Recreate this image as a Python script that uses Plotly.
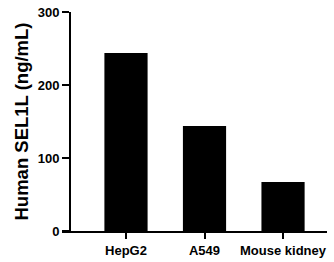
import plotly.graph_objects as go

categories = ["HepG2", "A549", "Mouse kidney"]
values = [244, 144, 67]
y_ticks = [0, 100, 200, 300]

FONT = "Liberation Sans, Arial, sans-serif"

fig = go.Figure()
fig.add_trace(go.Bar(
    x=list(range(len(categories))),
    y=values,
    width=0.55,
    marker=dict(color="black", line=dict(width=0)),
))

fig.update_layout(
    width=334, height=262,
    margin=dict(l=62, r=7, t=12, b=31, autoexpand=False),
    plot_bgcolor="white", paper_bgcolor="white",
    showlegend=False,
    font=dict(family=FONT, color="black", size=13, weight="bold"),
    xaxis=dict(
        range=[-0.815, 2.56],
        tickmode="array",
        tickvals=list(range(len(categories))),
        ticktext=categories,
        showline=True, linecolor="black", linewidth=2,
        ticks="outside", ticklen=6, tickwidth=2, tickcolor="black",
        showgrid=False, zeroline=False,
        tickfont=dict(family=FONT, size=13, weight="bold", color="black"),
    ),
    yaxis=dict(
        range=[0, 300],
        anchor="free", position=0.0302,
        tickmode="array", tickvals=y_ticks,
        showline=True, linecolor="black", linewidth=2,
        ticks="outside", ticklen=7, tickwidth=2, tickcolor="black",
        showgrid=False, zeroline=False,
        tickfont=dict(family=FONT, size=13, weight="bold", color="black"),
        title=dict(text="Human SEL1L (ng/mL)", standoff=3,
                   font=dict(family=FONT, size=18.5, weight="bold", color="black")),
    ),
)

fig.write_html("out.html", config={"displayModeBar": False})

# remove default page margin so the figure sits at the window origin
with open("out.html", "r", encoding="utf-8") as f:
    html = f.read()
html = html.replace("<head>", "<head><style>html,body{margin:0;padding:0;overflow:hidden;}</style>", 1)
with open("out.html", "w", encoding="utf-8") as f:
    f.write(html)
